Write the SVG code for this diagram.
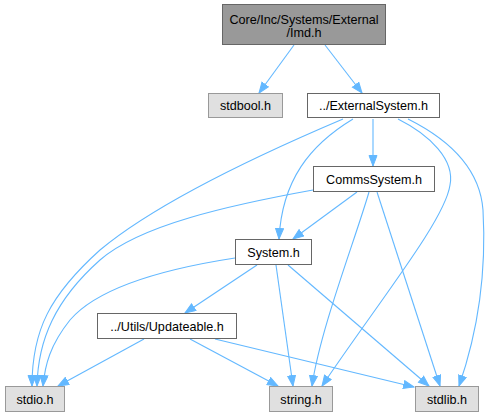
<svg xmlns="http://www.w3.org/2000/svg" width="491" height="417" viewBox="0 0 491 417">
<defs>
<marker id="arr" markerUnits="userSpaceOnUse" markerWidth="12" markerHeight="10" refX="11" refY="4.5" orient="auto">
<path d="M0.5,0.5 L11,4.5 L0.5,8.5 z" fill="#63b8ff" stroke="#63b8ff" stroke-width="1"/>
</marker>
<style>
.e{fill:none;stroke:#63b8ff;stroke-width:1.1;marker-end:url(#arr)}
.t{font-family:"Liberation Sans",Arial,Helvetica,sans-serif;font-size:12.6px;fill:#000;text-anchor:middle}
.top{fill:#999999;stroke:#666666}
.w{fill:#ffffff;stroke:#666666}
.g{fill:#e0e0e0;stroke:#999999}
</style>
</defs>
<rect width="491" height="417" fill="#ffffff"/>
<g id="edges">
<path class="e" d="M294,45 L259,93"/>
<path class="e" d="M325,45 L362,93"/>
<path class="e" d="M343,119 C270,150 160,200 100,250 C50,295 32,330 32,386"/>
<path class="e" d="M353,119 C310,145 282,180 279,239"/>
<path class="e" d="M373,119 L373,166"/>
<path class="e" d="M398,119 C430,135 455,160 450,185 C445,220 380,300 322,386"/>
<path class="e" d="M408,119 C450,140 480,170 483,210 C487,280 475,340 459,386"/>
<path class="e" d="M313,190 C230,205 140,225 100,260 C55,300 38,340 37,386"/>
<path class="e" d="M357,192 L293,239"/>
<path class="e" d="M369,192 C355,240 320,330 312,386"/>
<path class="e" d="M377,192 L440,386"/>
<path class="e" d="M235,258 C170,268 100,285 70,320 C50,345 45,365 43,386"/>
<path class="e" d="M257,265 L185,313"/>
<path class="e" d="M276,265 L293,386"/>
<path class="e" d="M288,265 L429,386"/>
<path class="e" d="M144,339 L58,386"/>
<path class="e" d="M190,339 L278,386"/>
<path class="e" d="M215,339 L414,387"/>
</g>
<g id="node_imd">
<rect class="top" x="222.5" y="4.5" width="163" height="40"/>
<text class="t" x="304" y="23.5">Core/Inc/Systems/External</text>
<text class="t" x="304" y="37">/Imd.h</text>
</g>
<g id="node_stdbool">
<rect class="g" x="208.5" y="93.5" width="74" height="24"/>
<text class="t" x="245.5" y="110">stdbool.h</text>
</g>
<g id="node_externalsystem">
<rect class="w" x="307.5" y="93.5" width="132" height="24"/>
<text class="t" x="373.5" y="110">../ExternalSystem.h</text>
</g>
<g id="node_commssystem">
<rect class="w" x="313.5" y="166.5" width="121" height="25"/>
<text class="t" x="374" y="183.5">CommsSystem.h</text>
</g>
<g id="node_system">
<rect class="w" x="235.5" y="239.5" width="76" height="25"/>
<text class="t" x="273.5" y="256.5">System.h</text>
</g>
<g id="node_updateable">
<rect class="w" x="97.5" y="313.5" width="139" height="25"/>
<text class="t" x="167" y="330.5">../Utils/Updateable.h</text>
</g>
<g id="node_stdio">
<rect class="g" x="5.5" y="386.5" width="59" height="25"/>
<text class="t" x="35" y="403.5">stdio.h</text>
</g>
<g id="node_string">
<rect class="g" x="269.5" y="386.5" width="63" height="25"/>
<text class="t" x="301" y="403.5">string.h</text>
</g>
<g id="node_stdlib">
<rect class="g" x="415.5" y="386.5" width="63" height="25"/>
<text class="t" x="447" y="403.5">stdlib.h</text>
</g>
</svg>
